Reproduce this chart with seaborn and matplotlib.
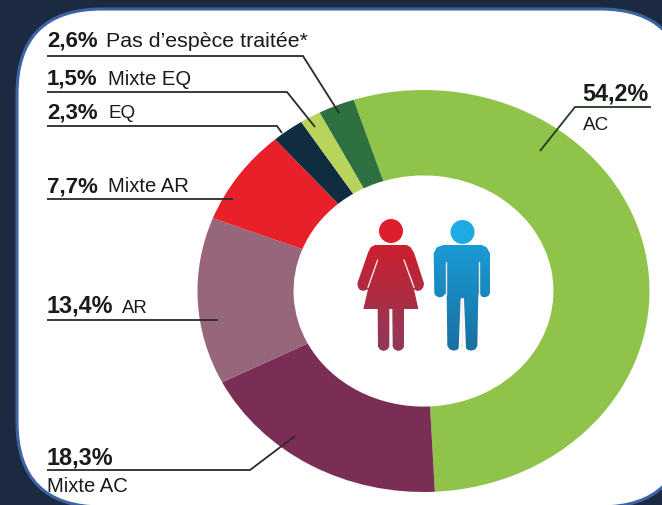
import matplotlib
matplotlib.use('Agg')
import matplotlib.pyplot as plt
import numpy as np
import seaborn as sns
from matplotlib.colors import LinearSegmentedColormap
from matplotlib.patches import Circle, FancyBboxPatch, Polygon

categories = ['AC', 'Mixte AC', 'AR', 'Mixte AR', 'EQ', 'Mixte EQ', "Pas d\u2019espèce traitée*"]
values = [54.2, 18.3, 13.4, 7.7, 2.3, 1.5, 2.6]
value_labels = ['54,2%', '18,3%', '13,4%', '7,7%', '2,3%', '1,5%', '2,6%']
colors = ['#8fc34a', '#7b2e55', '#98667a', '#e8202a', '#0f2c40', '#b9d45a', '#2f7040']

sns.set_theme(style='white')
plt.rcParams['font.family'] = ['Liberation Sans', 'DejaVu Sans']

W, H = 662, 505
fig = plt.figure(figsize=(W / 100, H / 100), dpi=100, facecolor='#1b2a41')

# everything except the ring is placed in image pixels
ax = fig.add_axes([0, 0, 1, 1])
ax.set_xlim(0, W)
ax.set_ylim(H, 0)
ax.axis('off')

ax.add_patch(FancyBboxPatch((17, 9), 668, 498, boxstyle='round,pad=0,rounding_size=85',
                            fc='white', ec='#3c64a4', lw=2.2, zorder=1))

# ring, stretched to an ellipse like the original
cx, cy, rx, ry = 423.5, 291, 226, 201
pie_ax = fig.add_axes([(cx - rx) / W, 1 - (cy + ry) / H, 2 * rx / W, 2 * ry / H], zorder=2)
pie_ax.pie(values, colors=sns.color_palette(colors), startangle=108, counterclock=False,
           radius=1, wedgeprops={'width': 0.425, 'linewidth': 0})
pie_ax.set_aspect('auto')
pie_ax.set_xlim(-1, 1)
pie_ax.set_ylim(-1, 1)
pie_ax.patch.set_alpha(0)

# text and leader lines go above the ring
top = fig.add_axes([0, 0, 1, 1], zorder=3)
top.set_xlim(0, W)
top.set_ylim(H, 0)
top.axis('off')

FS_BOLD = 16
FS_NAME = 14.6
LINE = '#2a2a2a'


def leader(xs, ys, color=LINE):
    top.plot(xs, ys, color=color, lw=1.3, solid_capstyle='butt', solid_joinstyle='miter')


def label(x, y, s, bold=False, size=None):
    if size is None:
        size = FS_BOLD if bold else FS_NAME
    top.text(x, y, s, fontsize=size, fontweight='bold' if bold else 'normal',
             color='#1a1a1a', va='baseline', ha='left')


label(47, 47, value_labels[6], True)
label(106, 47, categories[6], size=15.4)
leader([47, 303, 339], [56, 56, 113])

label(47, 85, value_labels[5], True)
label(108, 85, categories[5])
leader([47, 287, 315], [92, 92, 127])

label(47, 118, value_labels[4], True)
label(108, 118, categories[4], size=13.6)
leader([47, 277, 282], [126, 126, 133])

label(47, 192, value_labels[3], True)
label(108, 192, categories[3])
leader([47, 233], [199, 199])

label(47, 313, value_labels[2], True, size=16.8)
label(122, 313, categories[2], size=13.4)
leader([47, 218], [320, 320])

label(47, 464, value_labels[1], True, size=16.8)
label(47, 492, categories[1])
leader([47, 250, 295], [470, 470, 436])

label(582, 100, value_labels[0], True, size=16.8)
label(583, 130, categories[0], size=13.6)
leader([651, 575, 540], [107, 107, 151], '#1f3d20')


def zoomed(points):
    return [(340 + x / 3, 200 + y / 3) for x, y in points]


def gradient(patch, top_col, bottom_col, y0, y1):
    cmap = LinearSegmentedColormap.from_list('g', [top_col, bottom_col])
    x0, x1 = 340, 500
    im = top.imshow(np.linspace(0, 1, 128).reshape(-1, 1), cmap=cmap, aspect='auto',
                    extent=(x0, x1, y1, y0), zorder=4)
    top.add_patch(patch)
    patch.set_visible(False)
    im.set_clip_path(patch.get_path(), patch.get_transform())


def shape(points, top_col, bottom_col):
    patch = Polygon(zoomed(points), closed=True, transform=top.transData)
    gradient(patch, top_col, bottom_col, 245, 352)


def slit(points):
    pts = np.array(zoomed(points))
    top.plot(pts[:, 0], pts[:, 1], color='#f6e6ea', lw=1.0, zorder=5)


woman = [(105, 135), (200, 135), (212, 142), (222, 158), (252, 250), (250, 262), (242, 271),
         (232, 273), (222, 268), (235, 327), (192, 327), (192, 440), (186, 449), (175, 453),
         (164, 449), (158, 440), (157, 327), (148, 327), (148, 440), (142, 449), (131, 453),
         (120, 449), (114, 440), (113, 327), (70, 327), (84, 268), (70, 273), (60, 270),
         (54, 262), (52, 250), (84, 158), (92, 142)]
man = [(310, 135), (425, 135), (440, 142), (450, 160), (450, 280), (445, 288), (435, 292),
       (425, 290), (420, 282), (415, 282), (412, 438), (406, 448), (395, 452), (384, 450),
       (378, 445), (372, 295), (362, 295), (356, 445), (350, 450), (340, 452), (329, 448),
       (322, 438), (320, 282), (315, 282), (308, 290), (298, 292), (288, 288), (283, 280),
       (281, 160), (290, 142)]

shape(woman, '#cb1f2e', '#8e3a5c')
shape(man, '#1a9bd6', '#1a6f9f')
slit([(113, 180), (84, 262)])
slit([(192, 180), (222, 262)])
slit([(318, 185), (318, 285)])
slit([(417, 185), (417, 285)])
slit([(367, 295), (367, 445)])
top.add_patch(Circle((391, 231), 12, fc='#dc1f2c', ec='none', zorder=5))
top.add_patch(Circle((462.5, 232), 12, fc='#1cabe2', ec='none', zorder=5))

top.set_xlim(0, W)
top.set_ylim(H, 0)

fig.savefig('out.png', dpi=100, facecolor=fig.get_facecolor())
